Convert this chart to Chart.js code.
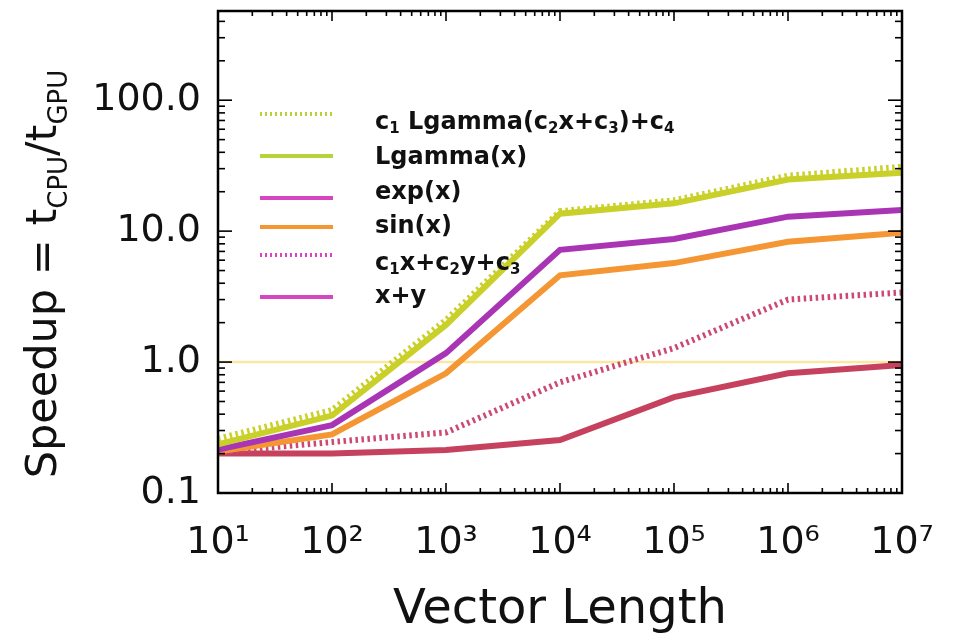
<!DOCTYPE html>
<html><head><meta charset="utf-8">
<script src="https://cdn.jsdelivr.net/npm/chart.js@4"></script>
<style>html,body{margin:0;padding:0;background:#fff}canvas{display:block}</style>
</head><body>
<canvas id="c" width="956" height="640"></canvas>
<script>
// ---- data ----
const vectorLengths = [1e1, 1e2, 1e3, 1e4, 1e5, 1e6, 1e7];
const lgammaFit = [0.26, 0.43, 2.1, 14.2, 17.2, 26.5, 31];
const lgamma    = [0.235, 0.39, 1.92, 13.6, 16.3, 24.8, 27.9];
const expX      = [0.215, 0.33, 1.17, 7.2, 8.7, 12.9, 14.5];
const sinX      = [0.207, 0.28, 0.82, 4.6, 5.7, 8.3, 9.7];
const linComb   = [0.205, 0.245, 0.29, 0.7, 1.28, 3.0, 3.4];
const xPlusY    = [0.2, 0.2, 0.213, 0.254, 0.54, 0.82, 0.95];
const referenceX = [1e1, 1e7];
const referenceLevel = [1, 1];
const xTicks = [1e1, 1e2, 1e3, 1e4, 1e5, 1e6, 1e7];
const yTicks = [0.1, 1, 10, 100];
const seriesLabels = ['c_1 Lgamma(c_2x+c_3)+c_4', 'Lgamma(x)', 'exp(x)', 'sin(x)', 'c_1x+c_2y+c_3', 'x+y'];
const xTitle = 'Vector Length';
const yTitle = 'Speedup = t_{CPU}/t_{GPU}';

// ---- styles ----
const C_LG = '#c9d02a', C_EXP = '#a935b4', C_SIN = '#f59634', C_LIN = '#cc4a72', C_XY = '#c5415e', C_REF = '#fbe6a2';
const DOT = [2.5, 3.5];
const FONT = '"DejaVu Sans", Verdana, sans-serif';
const legendStyle = [
  {color: '#b5d43a', dash: [2, 3]},
  {color: '#b5d43a', dash: []},
  {color: '#d646c0', dash: []},
  {color: '#f59634', dash: []},
  {color: '#d646c0', dash: [2, 3]},
  {color: '#d646c0', dash: []}
];
const legendTextY = [123, 158, 193, 227, 264, 297];
const legendSwatchY = [114, 156, 198, 227, 255, 297];

const SUP = {'0':'⁰','1':'¹','2':'²','3':'³','4':'⁴','5':'⁵','6':'⁶','7':'⁷','8':'⁸','9':'⁹','-':'⁻'};
const sup = s => String(s).split('').map(ch => SUP[ch] || ch).join('');

function pts(ys) { return ys.map((v, i) => ({x: vectorLengths[i], y: v})); }

function parseRich(str) {
  const segs = []; let buf = ''; let i = 0;
  while (i < str.length) {
    if (str[i] === '_') {
      if (buf) { segs.push({t: buf, sub: false}); buf = ''; }
      if (str[i + 1] === '{') {
        const j = str.indexOf('}', i);
        segs.push({t: str.slice(i + 2, j), sub: true}); i = j + 1;
      } else { segs.push({t: str[i + 1], sub: true}); i += 2; }
    } else { buf += str[i]; i++; }
  }
  if (buf) segs.push({t: buf, sub: false});
  return segs;
}
function richWidth(ctx, segs, font, subFont) {
  let w = 0;
  for (const s of segs) { ctx.font = s.sub ? subFont : font; w += ctx.measureText(s.t).width; }
  return w;
}
function drawRich(ctx, segs, x, y, font, subFont, drop) {
  for (const s of segs) {
    ctx.font = s.sub ? subFont : font;
    ctx.fillText(s.t, x, s.sub ? y + drop : y);
    x += ctx.measureText(s.t).width;
  }
}

const decor = {
  id: 'decor',
  afterDraw(chart) {
    const {ctx, chartArea: a, scales: {x, y}} = chart;
    ctx.save();
    ctx.strokeStyle = '#000'; ctx.lineWidth = 1.6;
    const line = (x1, y1, x2, y2) => { ctx.beginPath(); ctx.moveTo(x1, y1); ctx.lineTo(x2, y2); ctx.stroke(); };
    for (let e = -1; e <= 2; e++) for (let m = 1; m <= 9; m++) {
      const v = m * Math.pow(10, e);
      if (v < y.min - 1e-9 || v > y.max) continue;
      const p = y.getPixelForValue(v); const L = m === 1 ? 14 : 7;
      line(a.left, p, a.left + L, p); line(a.right, p, a.right - L, p);
    }
    for (let e = 1; e <= 7; e++) for (let m = 1; m <= 9; m++) {
      const v = m * Math.pow(10, e);
      if (v < x.min || v > x.max * 1.0001) continue;
      const p = x.getPixelForValue(v); const L = m === 1 ? 10 : 5;
      line(p, a.bottom, p, a.bottom - L); line(p, a.top, p, a.top + L);
    }
    ctx.lineWidth = 2.5;
    ctx.strokeRect(a.left, a.top, a.right - a.left, a.bottom - a.top);

    // legend
    ctx.textBaseline = 'middle'; ctx.textAlign = 'left'; ctx.fillStyle = '#111';
    seriesLabels.forEach((lab, i) => {
      const st = legendStyle[i];
      ctx.strokeStyle = st.color; ctx.lineWidth = 4; ctx.setLineDash(st.dash); ctx.lineCap = 'butt';
      line(260, legendSwatchY[i], 333, legendSwatchY[i]);
      ctx.setLineDash([]);
      drawRich(ctx, parseRich(lab), 375, legendTextY[i], 'bold 24px ' + FONT, 'bold 15px ' + FONT, 6);
    });

    // y title (rotated, with subscripts)
    ctx.translate(56, 274); ctx.rotate(-Math.PI / 2);
    ctx.textBaseline = 'alphabetic'; ctx.fillStyle = '#111';
    const segs = parseRich(yTitle);
    const f = '43px ' + FONT, sf = '26px ' + FONT;
    const w = richWidth(ctx, segs, f, sf);
    drawRich(ctx, segs, -w / 2, 0, f, sf, 11);
    ctx.restore();
  }
};

const noPad = s => { s.paddingTop = 0; s.paddingBottom = 0; s.paddingLeft = 0; s.paddingRight = 0; };

new Chart(document.getElementById('c'), {
  type: 'line',
  data: {
    datasets: [
      {label: seriesLabels[0], data: pts(lgammaFit), borderColor: C_LG, borderDash: DOT, borderWidth: 6, order: 2},
      {label: seriesLabels[1], data: pts(lgamma), borderColor: C_LG, borderWidth: 6, order: 3},
      {label: seriesLabels[2], data: pts(expX), borderColor: C_EXP, borderWidth: 6, order: 4},
      {label: seriesLabels[3], data: pts(sinX), borderColor: C_SIN, borderWidth: 6, order: 5},
      {label: seriesLabels[4], data: pts(linComb), borderColor: C_LIN, borderDash: DOT, borderWidth: 6, order: 6},
      {label: seriesLabels[5], data: pts(xPlusY), borderColor: C_XY, borderWidth: 6, order: 7},
      {label: 'reference', data: referenceLevel.map((v, i) => ({x: referenceX[i], y: v})), borderColor: C_REF, borderWidth: 2.5, order: 10}
    ]
  },
  options: {
    responsive: false,
    devicePixelRatio: 1,
    animation: false,
    layout: {padding: {top: 11, right: 54, left: 0, bottom: 0}},
    elements: {point: {radius: 0}, line: {tension: 0, fill: false, borderCapStyle: 'butt'}},
    plugins: {legend: {display: false}, tooltip: {enabled: false}},
    scales: {
      x: {
        type: 'logarithmic', min: 1e1, max: 1e7,
        afterBuildTicks: s => { s.ticks = xTicks.map(v => ({value: v})); },
        afterFit: s => { s.height = 147; noPad(s); },
        grid: {display: false, drawTicks: false},
        border: {display: false},
        ticks: {
          color: '#111', padding: 27, maxRotation: 0, autoSkip: false,
          font: {family: FONT, size: 38},
          callback: v => '10' + sup(Math.round(Math.log10(v)))
        },
        title: {display: true, text: xTitle, color: '#111', font: {family: FONT, size: 48}, padding: {top: 0, bottom: 1}}
      },
      y: {
        type: 'logarithmic', min: 0.1, max: 480,
        afterBuildTicks: s => { s.ticks = yTicks.map(v => ({value: v})); },
        afterFit: s => { s.width = 218; noPad(s); },
        grid: {display: false, drawTicks: false},
        border: {display: false},
        ticks: {
          color: '#111', padding: 17, autoSkip: false,
          font: {family: FONT, size: 38},
          callback: v => Number(v).toFixed(1)
        }
      }
    }
  },
  plugins: [decor]
});
</script>
</body></html>
